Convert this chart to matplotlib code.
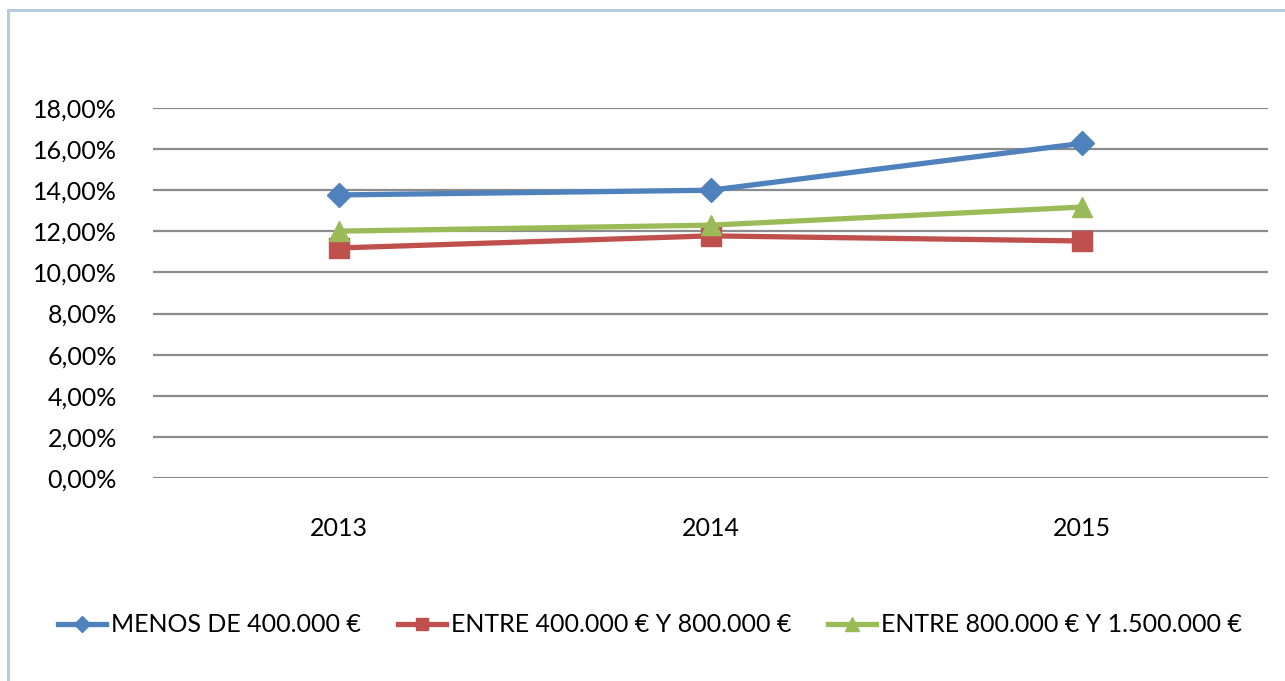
import numpy as np
import matplotlib.pyplot as plt
from matplotlib.patches import Rectangle
from matplotlib.ticker import FuncFormatter

# data
years = ['2013', '2014', '2015']
menos_400k = [13.77, 14.00, 16.28]
entre_400k_800k = [11.19, 11.78, 11.53]
entre_800k_1500k = [12.01, 12.30, 13.18]
series_labels = ['MENOS DE 400.000 €', 'ENTRE 400.000 € Y 800.000 €',
                 'ENTRE 800.000 € Y 1.500.000 €']
yticks = np.arange(0, 19, 2)

plt.rcParams['font.family'] = ['Lato', 'DejaVu Sans']

W, H = 1285, 681
fig = plt.figure(figsize=(W / 100, H / 100), dpi=100)

# chart-area frame, runs off the right and bottom edges
fig.patches.append(Rectangle((8 / W, -0.05), 1.1, 1 - 10 / H + 0.05,
                             transform=fig.transFigure, fill=False,
                             edgecolor='#b9cbe0', linewidth=2.2))

ax = fig.add_axes([153 / W, (H - 478) / H, (1268 - 153) / W, 370 / H])

x = np.arange(len(years))
styles = [('#4f81bd', 'D', 12.5), ('#c0504d', 's', 14), ('#9bbb59', '^', 15)]
for vals, (col, mk, ms), lab in zip([menos_400k, entre_400k_800k, entre_800k_1500k],
                                    styles, series_labels):
    ax.plot(x, vals, color=col, marker=mk, markersize=ms, linewidth=3.8,
            label=lab, zorder=3)

ax.set_xlim(-0.5, len(years) - 0.5)
ax.set_ylim(0, 18)
ax.set_yticks(yticks)
ax.yaxis.set_major_formatter(FuncFormatter(lambda v, p: f'{v:.2f}%'.replace('.', ',')))
ax.set_xticks(x)
ax.set_xticklabels(years)
ax.grid(axis='y', color='#8c8c8c', linewidth=1.6)
ax.set_axisbelow(True)
for s in ax.spines.values():
    s.set_visible(False)
ax.tick_params(length=0, labelsize=18, colors='black')
ax.tick_params(axis='y', pad=26)
ax.tick_params(axis='x', pad=28)

ax.legend(loc='center', bbox_to_anchor=(650 / W, 1 - 625 / H),
          bbox_transform=fig.transFigure, ncol=3, frameon=False,
          fontsize=18, handlelength=1.9, handletextpad=0.2,
          columnspacing=1.5, markerscale=0.65)

fig.savefig('out.png', dpi=100)
